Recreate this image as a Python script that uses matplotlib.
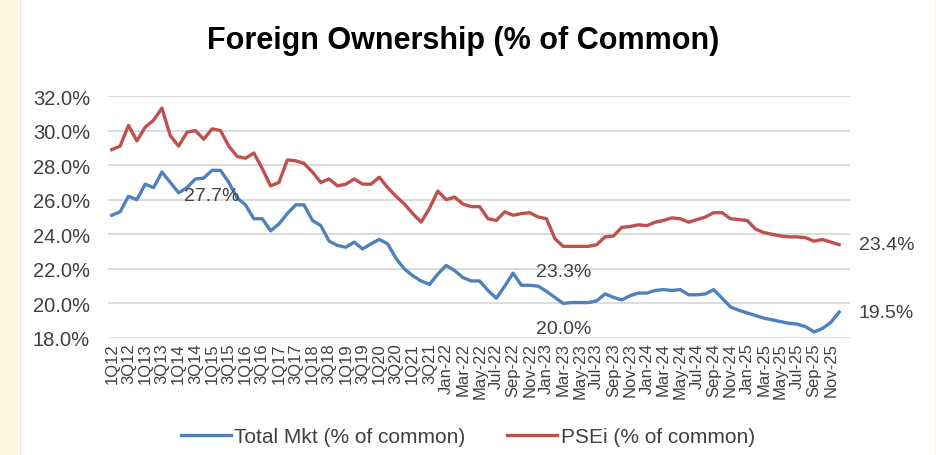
import matplotlib
matplotlib.use("Agg")
import matplotlib.pyplot as plt
from matplotlib.patches import Rectangle
from matplotlib.lines import Line2D
import numpy as np

plt.rcParams['font.family'] = ['Liberation Sans', 'DejaVu Sans']

# quarterly points 1Q12-4Q21, then monthly Jan-22 to Dec-25
years_q = list(range(12, 22))
months = ['Jan', 'Feb', 'Mar', 'Apr', 'May', 'Jun', 'Jul', 'Aug', 'Sep', 'Oct', 'Nov', 'Dec']
years_m = list(range(22, 26))

psei_q = [28.9, 29.1, 30.3, 29.4, 30.2, 30.6, 31.3, 29.7, 29.1, 29.9,
          30.0, 29.5, 30.1, 30.0, 29.1, 28.5, 28.4, 28.7, 27.8, 26.8,
          27.0, 28.3, 28.25, 28.1, 27.6, 27.0, 27.2, 26.8, 26.9, 27.2,
          26.9, 26.9, 27.3, 26.7, 26.2, 25.75, 25.2, 24.7, 25.5, 26.5]
psei_m = [26.0, 26.15, 25.75, 25.6, 25.6, 24.9, 24.8, 25.3, 25.1, 25.2,
          25.25, 25.0, 24.9, 23.75, 23.3, 23.3, 23.3, 23.3, 23.4, 23.85,
          23.9, 24.4, 24.45, 24.55, 24.5, 24.7, 24.8, 24.95, 24.9, 24.7,
          24.85, 25.0, 25.25, 25.25, 24.9, 24.85, 24.8, 24.3, 24.1, 24.0,
          23.9, 23.85, 23.85, 23.8, 23.6, 23.7, 23.55, 23.4]

total_q = [25.1, 25.3, 26.2, 26.0, 26.9, 26.7, 27.6, 27.0, 26.4, 26.7,
           27.2, 27.25, 27.7, 27.7, 27.0, 26.1, 25.7, 24.9, 24.9, 24.2,
           24.6, 25.2, 25.7, 25.7, 24.8, 24.5, 23.6, 23.35, 23.25, 23.55,
           23.15, 23.45, 23.7, 23.45, 22.6, 22.0, 21.6, 21.3, 21.1, 21.7]
total_m = [22.2, 21.9, 21.5, 21.3, 21.3, 20.75, 20.3, 21.0, 21.75, 21.05,
           21.05, 21.0, 20.7, 20.35, 20.0, 20.05, 20.05, 20.05, 20.15, 20.55,
           20.35, 20.2, 20.45, 20.6, 20.6, 20.75, 20.8, 20.75, 20.8, 20.5,
           20.5, 20.55, 20.8, 20.3, 19.8, 19.6, 19.45, 19.3, 19.15, 19.05,
           18.95, 18.85, 18.8, 18.65, 18.35, 18.55, 18.9, 19.5]

# points that carry a data label
labelled_total = [12, 54]
labelled_psei = [54]

categories = [f"{q}Q{y}" for y in years_q for q in range(1, 5)] + \
             [f"{m}-{y}" for y in years_m for m in months]
psei = np.array(psei_q + psei_m)
total = np.array(total_q + total_m)
x = np.arange(len(categories))

blue = '#4F81BD'
red = '#C0504D'
txt = '#404040'

fig = plt.figure(figsize=(9.36, 4.56), dpi=100)
fig.patch.set_facecolor('white')

# cream page margins and panel border
fig.patches.append(Rectangle((0, 0), 19 / 936, 1, transform=fig.transFigure,
                             facecolor='#FDF6E3', edgecolor='none', zorder=0))
fig.patches.append(Rectangle((934 / 936, 0), 2 / 936, 1, transform=fig.transFigure,
                             facecolor='#FDF6E3', edgecolor='none', zorder=0))
fig.lines.append(Line2D([19.5 / 936, 19.5 / 936], [0, 1], transform=fig.transFigure,
                        color='#E6E6E6', lw=1))

ax = fig.add_axes([108 / 936, 1 - 339 / 456, 742 / 936, 242 / 456])
ax.plot(x, total, color=blue, lw=2.4, solid_joinstyle='round', label='Total Mkt (% of common)')
ax.plot(x, psei, color=red, lw=2.4, solid_joinstyle='round', label='PSEi (% of common)')

ax.set_ylim(18, 32)
ax.set_xlim(-0.45, 88.3)
ax.set_yticks(np.arange(18, 32.1, 2))
ax.set_yticklabels([f"{v:.1f}%" for v in np.arange(18, 32.1, 2)], fontsize=14.5, color=txt)
ax.set_xticks(x[::2])
ax.set_xticklabels(categories[::2], rotation=90, fontsize=12, color=txt)
ax.tick_params(axis='y', length=0, pad=13)
ax.tick_params(axis='x', length=0, pad=3)
ax.grid(axis='y', color='#D9D9D9', lw=1.3)
ax.set_axisbelow(True)
for s in ax.spines.values():
    s.set_visible(False)

# data labels
for i in labelled_total:
    ax.annotate(f"{total[i]:.1f}%", (x[i], total[i]), xytext=(0, -18), textcoords='offset points',
                ha='center', va='center', fontsize=14, color=txt)
for i in labelled_psei:
    ax.annotate(f"{psei[i]:.1f}%", (x[i], psei[i]), xytext=(0, -18), textcoords='offset points',
                ha='center', va='center', fontsize=14, color=txt)
ax.annotate(f"{psei[-1]:.1f}%", (x[-1], psei[-1]), xytext=(14, 0), textcoords='offset points',
            ha='left', va='center', fontsize=14, color=txt, annotation_clip=False)
ax.annotate(f"{total[-1]:.1f}%", (x[-1], total[-1]), xytext=(14, 0), textcoords='offset points',
            ha='left', va='center', fontsize=14, color=txt, annotation_clip=False)

fig.text(463 / 936, 1 - 41 / 456, 'Foreign Ownership (% of Common)', ha='center', va='center',
         fontsize=22, fontweight='bold', color='black')

fig.legend(loc='center', bbox_to_anchor=(468 / 936, 1 - 438 / 456), ncol=2, frameon=False,
           fontsize=15, handlelength=2.4, handletextpad=0.15, columnspacing=2.0,
           labelcolor=txt)

fig.savefig('out.png', dpi=100)
